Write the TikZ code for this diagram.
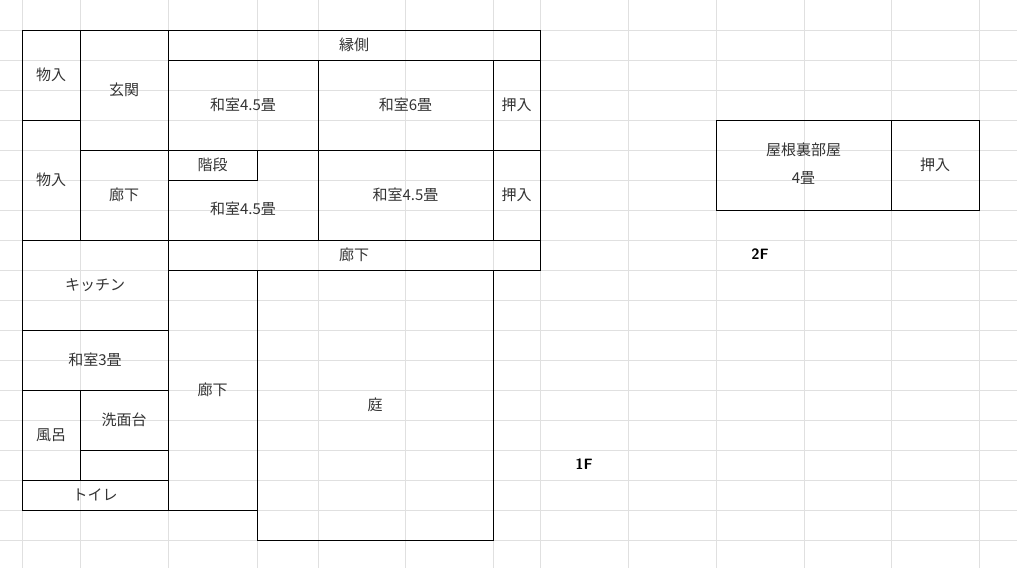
\documentclass[tikz,border=0pt]{standalone}
\usepackage{fontspec}
\setmainfont{Noto Sans CJK JP}
\begin{document}
\begin{tikzpicture}[x=1pt,y=-1pt,
  grid/.style={draw=black!12,line width=0.8pt},
  room/.style={draw=black,line width=1pt},
  lbl/.style={font=\fontsize{15}{18}\selectfont,text=black!80},
  flr/.style={font=\sffamily\bfseries\fontsize{15}{18}\selectfont}]
\useasboundingbox (0,0) rectangle (1017,568);
\foreach \x in {22,80,168,257,318,405,493,540,628,716,804,891,979}
  \draw[grid] (\x,0) -- (\x,568);
\foreach \y in {30,60,...,540}
  \draw[grid] (0,\y) -- (1017,\y);
% 1F rooms
\draw[room] (22,30) rectangle (80,120) node[lbl,midway] (m1) {物入};
\draw[room] (22,120) rectangle (80,240) node[lbl,midway] (m2) {物入};
\draw[room] (80,30) rectangle (168,150) node[lbl,midway] (gk) {玄関};
\draw[room] (80,150) rectangle (168,240) node[lbl,midway] (r1) {廊下};
\draw[room] (168,30) rectangle (540,60) node[lbl,midway] (en) {縁側};
\draw[room] (168,60) rectangle (318,150) node[lbl,midway] (w1) {和室4.5畳};
\draw[room] (318,60) rectangle (493,150) node[lbl,midway] (w2) {和室6畳};
\draw[room] (493,60) rectangle (540,150) node[lbl,midway] (o1) {押入};
\draw[room] (168,150) rectangle (318,240) node[lbl,midway,yshift=-14] (w3) {和室4.5畳};
\draw[room] (168,150) rectangle (257,180) node[lbl,midway] (kd) {階段};
\draw[room] (318,150) rectangle (493,240) node[lbl,midway] (w4) {和室4.5畳};
\draw[room] (493,150) rectangle (540,240) node[lbl,midway] (o2) {押入};
\draw[room] (168,240) rectangle (540,270) node[lbl,midway] (r2) {廊下};
\draw[room] (22,240) rectangle (168,330) node[lbl,midway] (kt) {キッチン};
\draw[room] (22,330) rectangle (168,390) node[lbl,midway] (w5) {和室3畳};
\draw[room] (22,390) rectangle (80,480) node[lbl,midway] (fr) {風呂};
\draw[room] (80,390) rectangle (168,450) node[lbl,midway] (sm) {洗面台};
\draw[room] (80,450) rectangle (168,480);
\draw[room] (22,480) rectangle (168,510) node[lbl,midway] (tl) {トイレ};
\draw[room] (168,270) rectangle (257,510) node[lbl,midway] (r3) {廊下};
\draw[room] (257,270) rectangle (493,540) node[lbl,midway] (nw) {庭};
% 2F
\draw[room] (716,120) rectangle (891,210);
\node[lbl,align=center] (yn) at (803.5,164) {屋根裏部屋\\[10pt]4畳};
\draw[room] (891,120) rectangle (979,210) node[lbl,midway] (o3) {押入};
\node[flr] (f2) at (760,254) {2F};
\node[flr] (f1) at (584,464) {1F};
\end{tikzpicture}
\end{document}
